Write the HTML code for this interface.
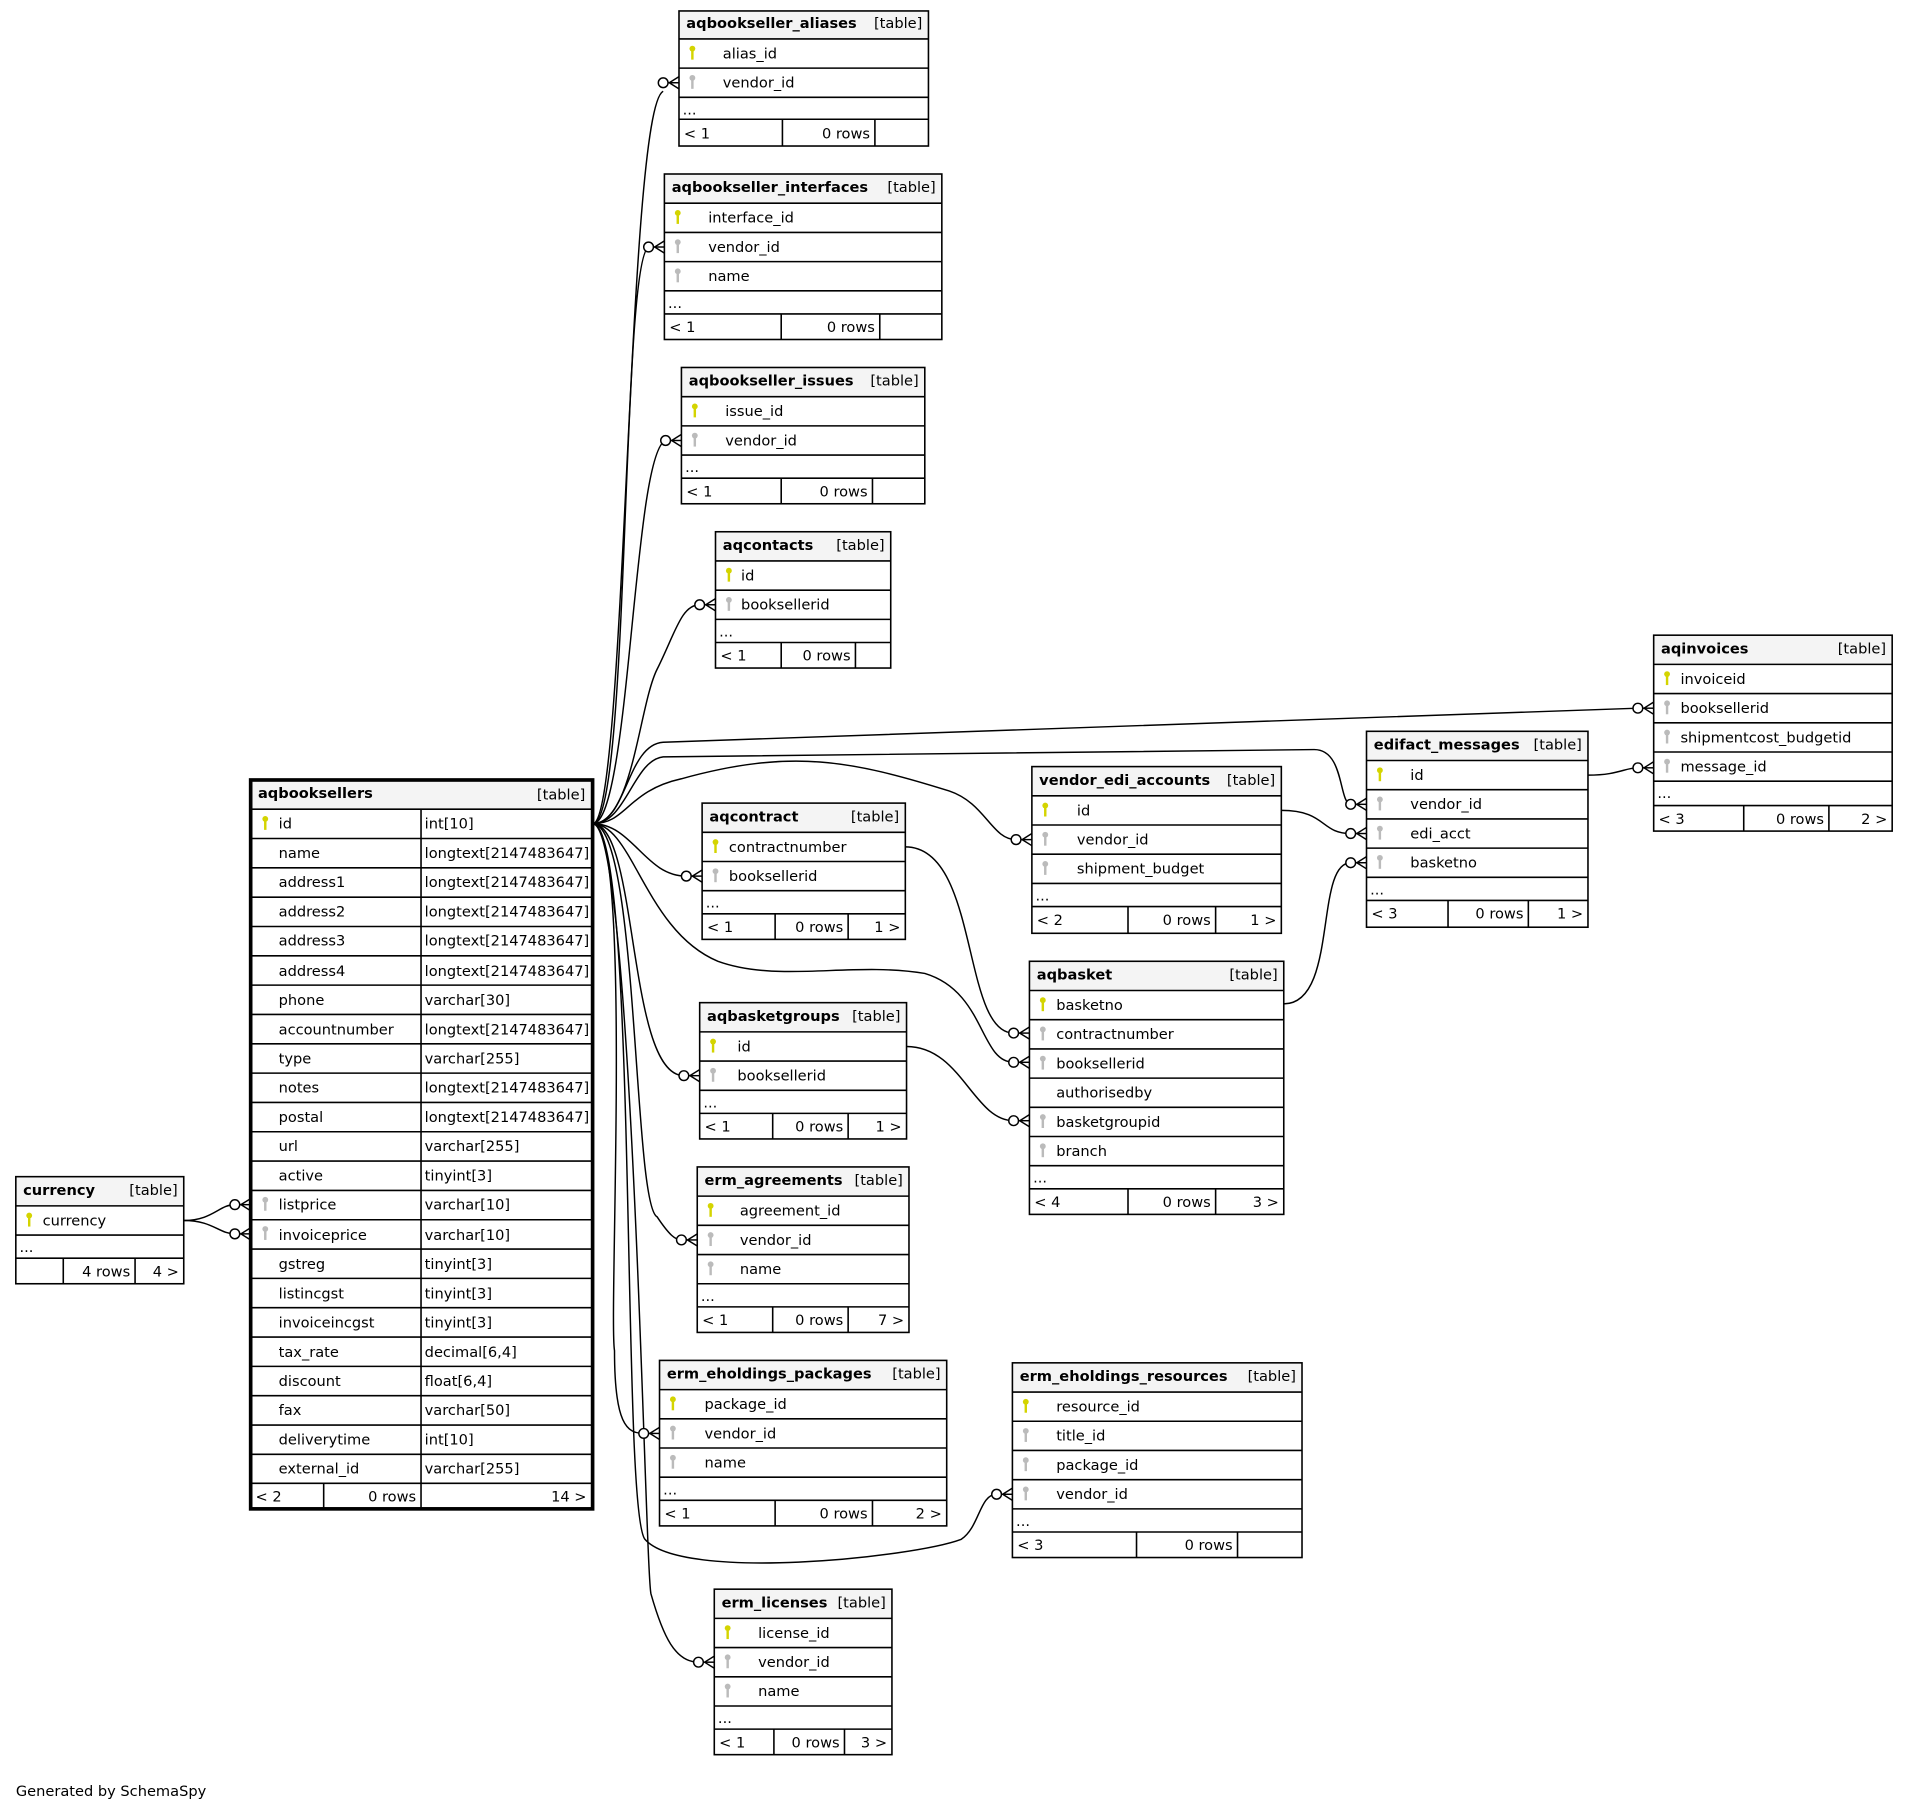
<!DOCTYPE html>
<html><head><meta charset="utf-8"><style>
html,body{margin:0;padding:0;background:#fff}
svg{display:block}
text{font-family:"DejaVu Sans","Liberation Sans",sans-serif;font-size:12px;fill:#000}
.b{font-weight:bold}
.e{text-anchor:end}
.o{fill:none;stroke:#000;stroke-width:1.3}
.h{fill:#f4f4f4;stroke:none}
.l{stroke:#000;stroke-width:1.3}
.c{fill:none;stroke:#000;stroke-width:1.2}
</style></head><body>
<svg width="1908" height="1811" viewBox="0 0 1568 1488.3" preserveAspectRatio="none" xmlns="http://www.w3.org/2000/svg">
<defs>
<g id="kp"><circle cx="0" cy="-4" r="2.4" fill="#d4d400"/><line x1="0" y1="-3" x2="0" y2="5" stroke="#d4d400" stroke-width="2"/></g>
<g id="kf"><circle cx="0" cy="-4" r="2.4" fill="#bbb"/><line x1="0" y1="-3" x2="0" y2="5" stroke="#bbb" stroke-width="2"/></g>
<g id="cf"><circle cx="-13" cy="0" r="4" fill="#fff" stroke="#000" stroke-width="1.2"/><line x1="-9" y1="0" x2="0" y2="0" stroke="#000" stroke-width="1.2"/><line x1="-8" y1="0" x2="0" y2="-5" stroke="#000" stroke-width="1.2"/><line x1="-8" y1="0" x2="0" y2="5" stroke="#000" stroke-width="1.2"/></g>
</defs>

<!-- connectors -->
<g class="c">
<path d="M487,677 C515,677 515,90 545,75"/>
<path d="M487,677 C518,677 510,215 533,203"/>
<path d="M487,677 C518,677 520,372 547,362"/>
<path d="M487,677 C520,677 525,580 540,550 C555,520 560,497 575,497"/>
<path d="M487,677 C515,677 515,612 545,610 L1346,582"/>
<path d="M487,677 C515,677 520,625 545,622 L1080,616 C1105,616 1100,660 1110,661"/>
<path d="M487,677 C515,677 515,650 560,640 C650,615 700,625 780,650 C810,660 815,690 835,690"/>
<path d="M487,677 C520,677 530,720 564,720"/>
<path d="M487,677 C520,677 530,765 590,790 C640,808 700,790 760,800 C810,815 805,873 833,873"/>
<path d="M487,677 C525,677 515,884 562,884"/>
<path d="M487,677 C525,677 520,990 540,1000 C550,1015 555,1019 560,1019"/>
<path d="M487,677 C520,677 500,1080 505,1110 C505,1170 515,1178 529,1178"/>
<path d="M487,677 C525,677 510,1240 530,1265 C560,1300 750,1280 790,1265 C805,1255 805,1228 819,1228"/>
<path d="M487,677 C520,677 530,1290 535,1310 C545,1345 555,1366 574,1366"/>
<path d="M151,1003 C175,1003 180,990 193,990"/>
<path d="M151,1003 C175,1003 180,1014 193,1014"/>
<path d="M744,696 C805,696 790,849 833,849"/>
<path d="M745,860 C790,860 800,921 833,921"/>
<path d="M1053,666 C1090,666 1085,685 1110,685"/>
<path d="M1055,825 C1100,825 1080,709 1110,709"/>
<path d="M1305,637 C1330,637 1335,631 1346,631"/>
</g>
<use href="#cf" x="558" y="68"/>
<use href="#cf" x="546" y="203"/>
<use href="#cf" x="560" y="362"/>
<use href="#cf" x="588" y="497"/>
<use href="#cf" x="1359" y="582"/>
<use href="#cf" x="1123" y="661"/>
<use href="#cf" x="848" y="690"/>
<use href="#cf" x="577" y="720"/>
<use href="#cf" x="846" y="873"/>
<use href="#cf" x="575" y="884"/>
<use href="#cf" x="573" y="1019"/>
<use href="#cf" x="542" y="1178"/>
<use href="#cf" x="832" y="1228"/>
<use href="#cf" x="587" y="1366"/>
<use href="#cf" x="206" y="990"/>
<use href="#cf" x="206" y="1014"/>
<use href="#cf" x="846" y="849"/>
<use href="#cf" x="846" y="921"/>
<use href="#cf" x="1123" y="685"/>
<use href="#cf" x="1123" y="709"/>
<use href="#cf" x="1359" y="631"/>

<!-- aqbookseller_aliases -->
<rect class="h" x="558" y="9" width="205" height="23"/>
<rect class="o" x="558" y="9" width="205" height="111"/>
<path class="l" d="M558,32H763M558,56H763M558,80H763M558,98H763M643,98V120M719,98V120"/>
<text class="b" x="564" y="23">aqbookseller_aliases</text><text class="e" x="758" y="23">[table]</text>
<use href="#kp" x="569" y="44"/><text x="594" y="48">alias_id</text>
<use href="#kf" x="569" y="68"/><text x="594" y="72">vendor_id</text>
<text x="561" y="94">...</text><text x="562" y="114">&lt; 1</text><text class="e" x="715" y="114">0 rows</text>

<!-- aqbookseller_interfaces -->
<rect class="h" x="546" y="143" width="228" height="24"/>
<rect class="o" x="546" y="143" width="228" height="136"/>
<path class="l" d="M546,167H774M546,191H774M546,215H774M546,239H774M546,258H774M642,258V279M723,258V279"/>
<text class="b" x="552" y="158">aqbookseller_interfaces</text><text class="e" x="769" y="158">[table]</text>
<use href="#kp" x="557" y="179"/><text x="582" y="183">interface_id</text>
<use href="#kf" x="557" y="203"/><text x="582" y="207">vendor_id</text>
<use href="#kf" x="557" y="227"/><text x="582" y="231">name</text>
<text x="549" y="253">...</text><text x="550" y="273">&lt; 1</text><text class="e" x="719" y="273">0 rows</text>

<!-- aqbookseller_issues -->
<rect class="h" x="560" y="302" width="200" height="24"/>
<rect class="o" x="560" y="302" width="200" height="112"/>
<path class="l" d="M560,326H760M560,350H760M560,374H760M560,393H760M642,393V414M717,393V414"/>
<text class="b" x="566" y="317">aqbookseller_issues</text><text class="e" x="755" y="317">[table]</text>
<use href="#kp" x="571" y="338"/><text x="596" y="342">issue_id</text>
<use href="#kf" x="571" y="362"/><text x="596" y="366">vendor_id</text>
<text x="563" y="388">...</text><text x="564" y="408">&lt; 1</text><text class="e" x="713" y="408">0 rows</text>

<!-- aqcontacts -->
<rect class="h" x="588" y="437" width="144" height="24"/>
<rect class="o" x="588" y="437" width="144" height="112"/>
<path class="l" d="M588,461H732M588,485H732M588,509H732M588,528H732M642,528V549M703,528V549"/>
<text class="b" x="594" y="452">aqcontacts</text><text class="e" x="727" y="452">[table]</text>
<use href="#kp" x="599" y="473"/><text x="609" y="477">id</text>
<use href="#kf" x="599" y="497"/><text x="609" y="501">booksellerid</text>
<text x="591" y="523">...</text><text x="592" y="543">&lt; 1</text><text class="e" x="699" y="543">0 rows</text>

<!-- aqinvoices -->
<rect class="h" x="1359" y="522" width="196" height="24"/>
<rect class="o" x="1359" y="522" width="196" height="161"/>
<path class="l" d="M1359,546H1555M1359,570H1555M1359,594H1555M1359,618H1555M1359,642H1555M1359,662H1555M1433,662V683M1503,662V683"/>
<text class="b" x="1365" y="537">aqinvoices</text><text class="e" x="1550" y="537">[table]</text>
<use href="#kp" x="1370" y="558"/><text x="1381" y="562">invoiceid</text>
<use href="#kf" x="1370" y="582"/><text x="1381" y="586">booksellerid</text>
<use href="#kf" x="1370" y="606"/><text x="1381" y="610">shipmentcost_budgetid</text>
<use href="#kf" x="1370" y="630"/><text x="1381" y="634">message_id</text>
<text x="1362" y="656">...</text><text x="1363" y="677">&lt; 3</text><text class="e" x="1499" y="677">0 rows</text><text class="e" x="1551" y="677">2 &gt;</text>

<!-- edifact_messages -->
<rect class="h" x="1123" y="601" width="182" height="24"/>
<rect class="o" x="1123" y="601" width="182" height="161"/>
<path class="l" d="M1123,625H1305M1123,649H1305M1123,673H1305M1123,697H1305M1123,721H1305M1123,740H1305M1190,740V762M1256,740V762"/>
<text class="b" x="1129" y="616">edifact_messages</text><text class="e" x="1300" y="616">[table]</text>
<use href="#kp" x="1134" y="637"/><text x="1159" y="641">id</text>
<use href="#kf" x="1134" y="661"/><text x="1159" y="665">vendor_id</text>
<use href="#kf" x="1134" y="685"/><text x="1159" y="689">edi_acct</text>
<use href="#kf" x="1134" y="709"/><text x="1159" y="713">basketno</text>
<text x="1126" y="735">...</text><text x="1127" y="755">&lt; 3</text><text class="e" x="1252" y="755">0 rows</text><text class="e" x="1301" y="755">1 &gt;</text>

<!-- vendor_edi_accounts -->
<rect class="h" x="848" y="630" width="205" height="24"/>
<rect class="o" x="848" y="630" width="205" height="137"/>
<path class="l" d="M848,654H1053M848,678H1053M848,702H1053M848,726H1053M848,745H1053M927,745V767M999,745V767"/>
<text class="b" x="854" y="645">vendor_edi_accounts</text><text class="e" x="1048" y="645">[table]</text>
<use href="#kp" x="859" y="666"/><text x="885" y="670">id</text>
<use href="#kf" x="859" y="690"/><text x="885" y="694">vendor_id</text>
<use href="#kf" x="859" y="714"/><text x="885" y="718">shipment_budget</text>
<text x="851" y="740">...</text><text x="852" y="760">&lt; 2</text><text class="e" x="995" y="760">0 rows</text><text class="e" x="1049" y="760">1 &gt;</text>

<!-- aqcontract -->
<rect class="h" x="577" y="660" width="167" height="24"/>
<rect class="o" x="577" y="660" width="167" height="112"/>
<path class="l" d="M577,684H744M577,708H744M577,732H744M577,751H744M637,751V772M697,751V772"/>
<text class="b" x="583" y="675">aqcontract</text><text class="e" x="739" y="675">[table]</text>
<use href="#kp" x="588" y="696"/><text x="599" y="700">contractnumber</text>
<use href="#kf" x="588" y="720"/><text x="599" y="724">booksellerid</text>
<text x="580" y="746">...</text><text x="581" y="766">&lt; 1</text><text class="e" x="693" y="766">0 rows</text><text class="e" x="740" y="766">1 &gt;</text>

<!-- aqbasket -->
<rect class="h" x="846" y="790" width="209" height="24"/>
<rect class="o" x="846" y="790" width="209" height="208"/>
<path class="l" d="M846,814H1055M846,838H1055M846,862H1055M846,886H1055M846,910H1055M846,934H1055M846,958H1055M846,977H1055M927,977V998M999,977V998"/>
<text class="b" x="852" y="805">aqbasket</text><text class="e" x="1050" y="805">[table]</text>
<use href="#kp" x="857" y="826"/><text x="868" y="830">basketno</text>
<use href="#kf" x="857" y="850"/><text x="868" y="854">contractnumber</text>
<use href="#kf" x="857" y="874"/><text x="868" y="878">booksellerid</text>
<text x="868" y="902">authorisedby</text>
<use href="#kf" x="857" y="922"/><text x="868" y="926">basketgroupid</text>
<use href="#kf" x="857" y="946"/><text x="868" y="950">branch</text>
<text x="849" y="972">...</text><text x="850" y="992">&lt; 4</text><text class="e" x="995" y="992">0 rows</text><text class="e" x="1051" y="992">3 &gt;</text>

<!-- aqbasketgroups -->
<rect class="h" x="575" y="824" width="170" height="24"/>
<rect class="o" x="575" y="824" width="170" height="112"/>
<path class="l" d="M575,848H745M575,872H745M575,896H745M575,915H745M635,915V936M697,915V936"/>
<text class="b" x="581" y="839">aqbasketgroups</text><text class="e" x="740" y="839">[table]</text>
<use href="#kp" x="586" y="860"/><text x="606" y="864">id</text>
<use href="#kf" x="586" y="884"/><text x="606" y="888">booksellerid</text>
<text x="578" y="910">...</text><text x="579" y="930">&lt; 1</text><text class="e" x="693" y="930">0 rows</text><text class="e" x="741" y="930">1 &gt;</text>

<!-- erm_agreements -->
<rect class="h" x="573" y="959" width="174" height="24"/>
<rect class="o" x="573" y="959" width="174" height="136"/>
<path class="l" d="M573,983H747M573,1007H747M573,1031H747M573,1055H747M573,1074H747M635,1074V1095M697,1074V1095"/>
<text class="b" x="579" y="974">erm_agreements</text><text class="e" x="742" y="974">[table]</text>
<use href="#kp" x="584" y="995"/><text x="608" y="999">agreement_id</text>
<use href="#kf" x="584" y="1019"/><text x="608" y="1023">vendor_id</text>
<use href="#kf" x="584" y="1043"/><text x="608" y="1047">name</text>
<text x="576" y="1069">...</text><text x="577" y="1089">&lt; 1</text><text class="e" x="693" y="1089">0 rows</text><text class="e" x="743" y="1089">7 &gt;</text>

<!-- erm_eholdings_packages -->
<rect class="h" x="542" y="1118" width="236" height="24"/>
<rect class="o" x="542" y="1118" width="236" height="136"/>
<path class="l" d="M542,1142H778M542,1166H778M542,1190H778M542,1214H778M542,1233H778M637,1233V1254M717,1233V1254"/>
<text class="b" x="548" y="1133">erm_eholdings_packages</text><text class="e" x="773" y="1133">[table]</text>
<use href="#kp" x="553" y="1154"/><text x="579" y="1158">package_id</text>
<use href="#kf" x="553" y="1178"/><text x="579" y="1182">vendor_id</text>
<use href="#kf" x="553" y="1202"/><text x="579" y="1206">name</text>
<text x="545" y="1228">...</text><text x="546" y="1248">&lt; 1</text><text class="e" x="713" y="1248">0 rows</text><text class="e" x="774" y="1248">2 &gt;</text>

<!-- erm_eholdings_resources -->
<rect class="h" x="832" y="1120" width="238" height="24"/>
<rect class="o" x="832" y="1120" width="238" height="160"/>
<path class="l" d="M832,1144H1070M832,1168H1070M832,1192H1070M832,1216H1070M832,1240H1070M832,1259H1070M934,1259V1280M1017,1259V1280"/>
<text class="b" x="838" y="1135">erm_eholdings_resources</text><text class="e" x="1065" y="1135">[table]</text>
<use href="#kp" x="843" y="1156"/><text x="868" y="1160">resource_id</text>
<use href="#kf" x="843" y="1180"/><text x="868" y="1184">title_id</text>
<use href="#kf" x="843" y="1204"/><text x="868" y="1208">package_id</text>
<use href="#kf" x="843" y="1228"/><text x="868" y="1232">vendor_id</text>
<text x="835" y="1254">...</text><text x="836" y="1274">&lt; 3</text><text class="e" x="1013" y="1274">0 rows</text>

<!-- erm_licenses -->
<rect class="h" x="587" y="1306" width="146" height="24"/>
<rect class="o" x="587" y="1306" width="146" height="136"/>
<path class="l" d="M587,1330H733M587,1354H733M587,1378H733M587,1402H733M587,1421H733M636,1421V1442M694,1421V1442"/>
<text class="b" x="593" y="1321">erm_licenses</text><text class="e" x="728" y="1321">[table]</text>
<use href="#kp" x="598" y="1342"/><text x="623" y="1346">license_id</text>
<use href="#kf" x="598" y="1366"/><text x="623" y="1370">vendor_id</text>
<use href="#kf" x="598" y="1390"/><text x="623" y="1394">name</text>
<text x="590" y="1416">...</text><text x="591" y="1436">&lt; 1</text><text class="e" x="690" y="1436">0 rows</text><text class="e" x="729" y="1436">3 &gt;</text>

<!-- currency -->
<rect class="h" x="13" y="967" width="138" height="24"/>
<rect class="o" x="13" y="967" width="138" height="88"/>
<path class="l" d="M13,991H151M13,1015H151M13,1034H151M52,1034V1055M111,1034V1055"/>
<text class="b" x="19" y="982">currency</text><text class="e" x="146" y="982">[table]</text>
<use href="#kp" x="24" y="1003"/><text x="35" y="1007">currency</text>
<text x="16" y="1029">...</text><text class="e" x="107" y="1049">4 rows</text><text class="e" x="147" y="1049">4 &gt;</text>

<!-- aqbooksellers -->
<rect class="h" x="206" y="641" width="281" height="24"/>
<rect x="206" y="641" width="281" height="599" fill="none" stroke="#000" stroke-width="3"/>
<path class="l" d="M206,665H487M206,689.1H487M206,713.2H487M206,737.3H487M206,761.4H487M206,785.5H487M206,809.6H487M206,833.7H487M206,857.8H487M206,881.9H487M206,906H487M206,930.1H487M206,954.2H487M206,978.3H487M206,1002.4H487M206,1026.5H487M206,1050.6H487M206,1074.7H487M206,1098.8H487M206,1122.9H487M206,1147H487M206,1171.1H487M206,1195.2H487M206,1219H487M346,665V1240M266,1219V1240"/>
<text class="b" x="212" y="656">aqbooksellers</text><text class="e" x="481" y="657">[table]</text>
<g>
<use href="#kp" x="218" y="677"/>
<text x="229" y="681">id</text><text x="349" y="681">int[10]</text>
<text x="229" y="705">name</text><text x="349" y="705">longtext[2147483647]</text>
<text x="229" y="729">address1</text><text x="349" y="729">longtext[2147483647]</text>
<text x="229" y="753">address2</text><text x="349" y="753">longtext[2147483647]</text>
<text x="229" y="777">address3</text><text x="349" y="777">longtext[2147483647]</text>
<text x="229" y="802">address4</text><text x="349" y="802">longtext[2147483647]</text>
<text x="229" y="826">phone</text><text x="349" y="826">varchar[30]</text>
<text x="229" y="850">accountnumber</text><text x="349" y="850">longtext[2147483647]</text>
<text x="229" y="874">type</text><text x="349" y="874">varchar[255]</text>
<text x="229" y="898">notes</text><text x="349" y="898">longtext[2147483647]</text>
<text x="229" y="922">postal</text><text x="349" y="922">longtext[2147483647]</text>
<text x="229" y="946">url</text><text x="349" y="946">varchar[255]</text>
<text x="229" y="970">active</text><text x="349" y="970">tinyint[3]</text>
<use href="#kf" x="218" y="990"/>
<text x="229" y="994">listprice</text><text x="349" y="994">varchar[10]</text>
<use href="#kf" x="218" y="1014"/>
<text x="229" y="1019">invoiceprice</text><text x="349" y="1019">varchar[10]</text>
<text x="229" y="1043">gstreg</text><text x="349" y="1043">tinyint[3]</text>
<text x="229" y="1067">listincgst</text><text x="349" y="1067">tinyint[3]</text>
<text x="229" y="1091">invoiceincgst</text><text x="349" y="1091">tinyint[3]</text>
<text x="229" y="1115">tax_rate</text><text x="349" y="1115">decimal[6,4]</text>
<text x="229" y="1139">discount</text><text x="349" y="1139">float[6,4]</text>
<text x="229" y="1163">fax</text><text x="349" y="1163">varchar[50]</text>
<text x="229" y="1187">deliverytime</text><text x="349" y="1187">int[10]</text>
<text x="229" y="1211">external_id</text><text x="349" y="1211">varchar[255]</text>
<text x="210" y="1234">&lt; 2</text><text class="e" x="342" y="1234">0 rows</text><text class="e" x="482" y="1234">14 &gt;</text>
</g>

<text x="13" y="1476">Generated by SchemaSpy</text>
</svg>
</body></html>
